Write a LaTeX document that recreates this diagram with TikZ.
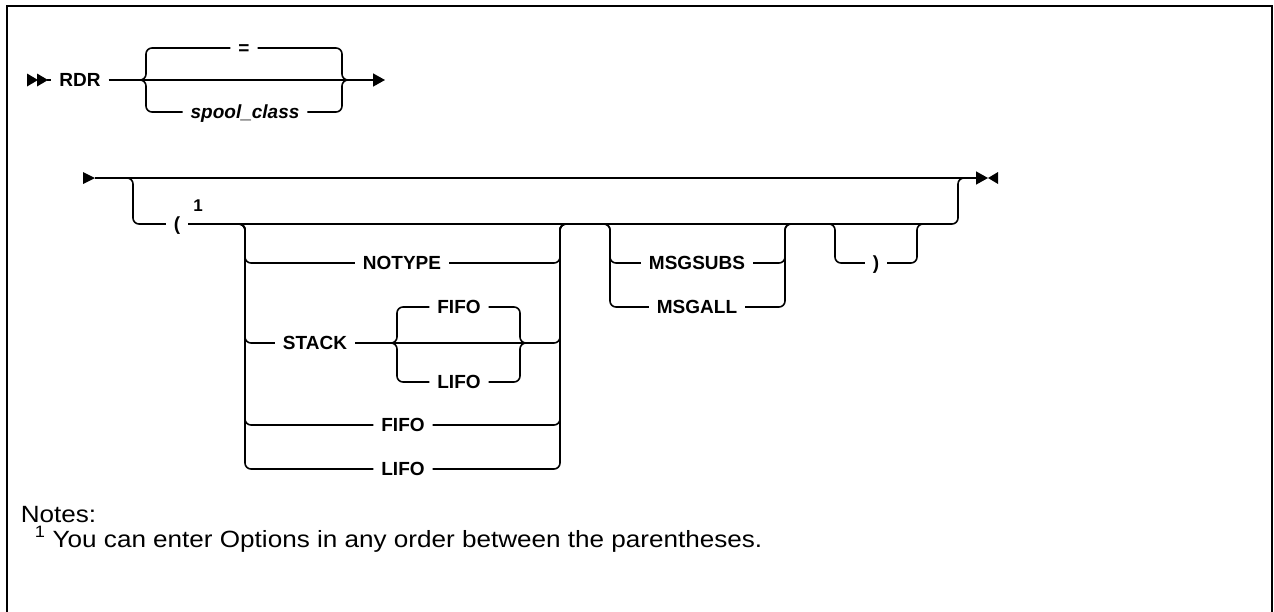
\documentclass[tikz,border=0pt]{standalone}
\usepackage{fontspec}
\setmainfont{Liberation Sans}
\newfontfamily\notefont[FakeStretch=1.11]{Liberation Sans}
\usetikzlibrary{arrows.meta}
\newcommand\kwfont{\fontsize{19}{22}\selectfont\bfseries}

\begin{document}
\begin{tikzpicture}[x=1pt, y=-1pt, line width=1.6pt,
  rail/.style={rounded corners=6pt},
  kw/.style={font=\kwfont, inner sep=0pt, outer xsep=8pt, text height=13.6pt, text depth=0pt},
  tip/.style={-{Triangle[length=12pt, width=13pt]}},
  note/.style={font=\notefont\fontsize{23.5}{28}\selectfont, inner sep=0pt}]
  \useasboundingbox (0,0) rectangle (1274,611);
  % frame
  \draw[line width=2pt] (7,630) |- (1272,6) -- (1272,630);

  % first line: RDR with its class
  \foreach \x in {27,37}{
    \fill (\x,73.5) -- ++(11,6.5) -- ++(-11,6.5) -- cycle;
  }
  \coordinate (go1) at (47,80);
  \node[kw] (rdr) at (80,80) {RDR};
  \node[kw] (eq) at (244,48) {=};
  \node[kw, font=\kwfont\itshape] (spool) at (245,112) {spool\_class};
  \coordinate (r1in) at (138,80);
  \coordinate (l1) at (146,80);
  \coordinate (r1) at (342,80);
  \coordinate (r1out) at (350,80);
  \coordinate (r1end) at (385,80);
  \draw (go1) -- (rdr.west);
  \draw[tip] (rdr.east) -- (r1end);
  \foreach \n in {eq,spool}{
    \draw[rail] (r1in) -| (l1 |- \n) -- (\n.west);
    \draw[rail] (\n.east) -| (r1) -- (r1out);
  }

  % second line: the options
  \fill (83,172) -- (95,178) -- (83,184) -- cycle;
  \coordinate (go2) at (95,178);
  \coordinate (stop) at (988,178);
  \draw[tip] (go2) -- (stop);
  \fill (998,172) -- (stop) -- (998,184) -- cycle;
  \node[kw] (lpar) at (177,224) {(};
  \node[font=\fontsize{17}{19}\selectfont\bfseries, inner sep=0pt] (mark) at (198,206) {1};
  \coordinate (o1) at (125,178);
  \coordinate (ol) at (133,224);
  \coordinate (or) at (958,224);
  \coordinate (o2) at (966,178);
  \draw[rail] (o1) -| (ol) -- (lpar.west);
  \draw[rail] (lpar.east) -- (or) |- (o2);

  % NOTYPE / STACK / FIFO / LIFO
  \node[kw] (notype) at (402,263) {NOTYPE};
  \node[kw] (stack) at (315,343) {STACK};
  \node[kw] (fifo) at (403,425) {FIFO};
  \node[kw] (lifo) at (403,469) {LIFO};
  \coordinate (g1in) at (237,224);
  \coordinate (g1l) at (245,224);
  \coordinate (g1r) at (560,224);
  \coordinate (g1out) at (568,224);
  \foreach \n in {notype,stack,fifo,lifo}{
    \draw[rail] (g1in) -| (g1l |- \n) -- (\n.west);
    \draw[rail] (\n.east) -| (g1r) -- (g1out);
  }
  % STACK order
  \node[kw] (sfifo) at (459,307) {FIFO};
  \node[kw] (slifo) at (459,382) {LIFO};
  \coordinate (sin) at (389,343);
  \coordinate (sl) at (397,343);
  \coordinate (sr) at (520,343);
  \coordinate (sout) at (528,343);
  \foreach \n in {sfifo,slifo}{
    \draw[rail] (sin) -| (sl |- \n) -- (\n.west);
    \draw[rail] (\n.east) -| (sr) -- (sout);
  }

  % MSGSUBS / MSGALL
  \node[kw] (msgsubs) at (697,263) {MSGSUBS};
  \node[kw] (msgall) at (697,307) {MSGALL};
  \coordinate (g2in) at (602,224);
  \coordinate (g2l) at (610,224);
  \coordinate (g2r) at (785,224);
  \coordinate (g2out) at (793,224);
  \foreach \n in {msgsubs,msgall}{
    \draw[rail] (g2in) -| (g2l |- \n) -- (\n.west);
    \draw[rail] (\n.east) -| (g2r) -- (g2out);
  }

  % closing parenthesis
  \node[kw] (rpar) at (876,263) {)};
  \coordinate (g3in) at (827,224);
  \coordinate (g3l) at (835,224);
  \coordinate (g3r) at (917,224);
  \coordinate (g3out) at (925,224);
  \draw[rail] (g3in) -| (g3l |- rpar) -- (rpar.west);
  \draw[rail] (rpar.east) -| (g3r) -- (g3out);

  % notes
  \node[note, anchor=base west] (notes) at (20,522) {Notes:};
  \node[note, anchor=base west] (fn) at (34,547) {\textsuperscript{1} You can enter Options in any order between the parentheses.};
\end{tikzpicture}
\end{document}
